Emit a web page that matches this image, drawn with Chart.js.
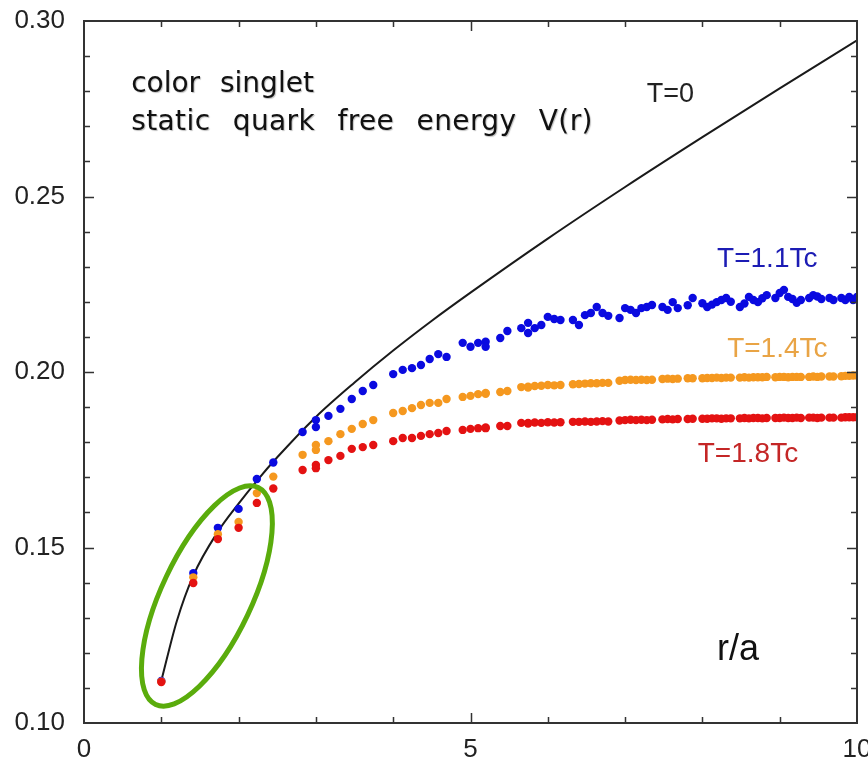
<!DOCTYPE html>
<html>
<head>
<meta charset="utf-8">
<script src="https://cdn.jsdelivr.net/npm/chart.js@4.4.1/dist/chart.umd.min.js"></script>
<style>
  html, body { margin: 0; padding: 0; background: #fff; }
  canvas { display: block; }
</style>
</head>
<body>
<canvas id="myChart" width="868" height="760"></canvas>
<script>
// r/a of the lattice points
const rVals = [
  1.000, 1.414, 1.732, 2.000, 2.236, 2.449, 2.828, 3.000, 3.000, 3.162,
  3.317, 3.464, 3.606, 3.742, 4.000, 4.123, 4.243, 4.359, 4.472, 4.583,
  4.690, 4.899, 5.000, 5.099, 5.196, 5.196, 5.385, 5.477, 5.657, 5.745,
  5.745, 5.831, 5.916, 6.000, 6.083, 6.164, 6.325, 6.403, 6.481, 6.557,
  6.633, 6.708, 6.782, 6.928, 7.000, 7.071, 7.141, 7.211, 7.280, 7.348,
  7.483, 7.550, 7.616, 7.681, 7.810, 7.874, 8.000, 8.062, 8.124, 8.185,
  8.246, 8.307, 8.367, 8.485, 8.544, 8.602, 8.660, 8.718, 8.775, 8.832,
  8.944, 9.000, 9.055, 9.110, 9.165, 9.220, 9.274, 9.381, 9.434, 9.487,
  9.539, 9.644, 9.695, 9.798, 9.849, 9.899, 9.950, 10.000
];
// T = 1.1 Tc
const blueVals = [
  0.1120, 0.1427, 0.1556, 0.1610, 0.1695, 0.1742, 0.1829, 0.1863, 0.1843, 0.1875,
  0.1895, 0.1923, 0.1946, 0.1963, 0.1994, 0.2006, 0.2011, 0.2020, 0.2037, 0.2051,
  0.2043, 0.2083, 0.2072, 0.2083, 0.2086, 0.2072, 0.2097, 0.2117, 0.2125, 0.2140,
  0.2111, 0.2125, 0.2134, 0.2157, 0.2151, 0.2148, 0.2148, 0.2134, 0.2162, 0.2168,
  0.2185, 0.2168, 0.2160, 0.2154, 0.2182, 0.2177, 0.2168, 0.2182, 0.2185, 0.2191,
  0.2185, 0.2177, 0.2199, 0.2182, 0.2190, 0.2211, 0.2196, 0.2185, 0.2192, 0.2199,
  0.2205, 0.2211, 0.2200, 0.2185, 0.2195, 0.2214, 0.2205, 0.2199, 0.2210, 0.2219,
  0.2211, 0.2225, 0.2234, 0.2214, 0.2208, 0.2197, 0.2205, 0.2211, 0.2219, 0.2215,
  0.2208, 0.2211, 0.2205, 0.2211, 0.2205, 0.2214, 0.2205, 0.2214
];
// T = 1.4 Tc
const orangeVals = [
  0.1118, 0.1415, 0.1538, 0.1573, 0.1655, 0.1702, 0.1764, 0.1792, 0.1778, 0.1803,
  0.1823, 0.1838, 0.1852, 0.1863, 0.1883, 0.1889, 0.1897, 0.1906, 0.1912, 0.1912,
  0.1923, 0.1929, 0.1932, 0.1937, 0.1940, 0.1938, 0.1943, 0.1946, 0.1957, 0.1958,
  0.1956, 0.1960, 0.1961, 0.1963, 0.1962, 0.1963, 0.1965, 0.1966, 0.1967, 0.1968,
  0.1968, 0.1969, 0.1969, 0.1975, 0.1977, 0.1978, 0.1977, 0.1978, 0.1977, 0.1978,
  0.1980, 0.1981, 0.1980, 0.1981, 0.1982, 0.1982, 0.1982, 0.1983, 0.1983, 0.1984,
  0.1983, 0.1984, 0.1984, 0.1984, 0.1985, 0.1984, 0.1985, 0.1985, 0.1985, 0.1986,
  0.1985, 0.1986, 0.1986, 0.1985, 0.1986, 0.1986, 0.1986, 0.1986, 0.1987, 0.1986,
  0.1987, 0.1987, 0.1987, 0.1988, 0.1989, 0.1989, 0.1990, 0.1990
];
// T = 1.8 Tc
const redVals = [
  0.1117, 0.1399, 0.1524, 0.1556, 0.1627, 0.1668, 0.1721, 0.1735, 0.1726, 0.1749,
  0.1761, 0.1781, 0.1786, 0.1792, 0.1803, 0.1812, 0.1812, 0.1818, 0.1823, 0.1826,
  0.1832, 0.1835, 0.1838, 0.1840, 0.1842, 0.1840, 0.1846, 0.1846, 0.1855, 0.1855,
  0.1853, 0.1856, 0.1855, 0.1857, 0.1856, 0.1857, 0.1858, 0.1858, 0.1859, 0.1858,
  0.1859, 0.1860, 0.1859, 0.1862, 0.1863, 0.1864, 0.1863, 0.1864, 0.1863, 0.1864,
  0.1865, 0.1866, 0.1865, 0.1866, 0.1866, 0.1867, 0.1867, 0.1867, 0.1868, 0.1868,
  0.1867, 0.1868, 0.1868, 0.1868, 0.1869, 0.1868, 0.1869, 0.1869, 0.1868, 0.1869,
  0.1869, 0.1869, 0.1870, 0.1869, 0.1869, 0.1870, 0.1869, 0.1870, 0.1870, 0.1869,
  0.1870, 0.1870, 0.1870, 0.1870, 0.1871, 0.1871, 0.1871, 0.1871
];
// T = 0 potential
const curveR = [1.0, 1.2, 1.414, 1.732, 2.0, 2.236, 2.5, 3.0, 3.5, 4.0, 4.5, 5.0, 6.0, 7.0, 8.0, 9.0, 10.0];
const curveV = [0.112, 0.129, 0.142, 0.1545, 0.1625, 0.169, 0.1757, 0.1872, 0.197, 0.2061, 0.2146, 0.2226, 0.238, 0.2527, 0.2669, 0.2808, 0.2945];

const xTicks = [0, 5, 10];
const yTicks = [0.10, 0.15, 0.20, 0.25, 0.30];

const toPts = (xs, ys) => xs.map((x, i) => ({ x: x, y: ys[i] }));

const notes = [
  { text: "color singlet", x: 0.61, y: 0.2798, color: "#111", font: "28px 'DejaVu Sans'", shadow: true, gap: "11px" },
  { text: "static quark free energy V(r)", x: 0.61, y: 0.2689, color: "#111", font: "28px 'DejaVu Sans'", shadow: true, gap: "13px", spread: "0.4px" },
  { text: "T=0", x: 7.28, y: 0.2769, color: "#222", font: "27px 'Liberation Sans'" },
  { text: "T=1.1Tc", x: 8.19, y: 0.2299, color: "#1c1cb4", font: "28px 'Liberation Sans'" },
  { text: "T=1.4Tc", x: 8.32, y: 0.2043, color: "#e9a445", font: "28px 'Liberation Sans'" },
  { text: "T=1.8Tc", x: 7.94, y: 0.1744, color: "#c42626", font: "28px 'Liberation Sans'" },
  { text: "r/a", x: 8.19, y: 0.1179, color: "#111", font: "36px 'Liberation Sans'" }
];

const ring = { x: 1.59, y: 0.1362, rx: 120, ry: 45, angle: -64.7, color: "#5aac0c", width: 5 };

const decor = {
  id: "decor",
  afterDatasetsDraw(chart) {
    const { ctx, chartArea: a, scales } = chart;
    const sx = scales.x, sy = scales.y;
    ctx.save();

    // green ellipse
    ctx.strokeStyle = ring.color;
    ctx.lineWidth = ring.width;
    ctx.beginPath();
    ctx.ellipse(sx.getPixelForValue(ring.x), sy.getPixelForValue(ring.y),
      ring.rx, ring.ry, ring.angle * Math.PI / 180, 0, Math.PI * 2);
    ctx.stroke();

    // frame top/right and inward ticks
    ctx.strokeStyle = "#333";
    ctx.lineWidth = 2;
    ctx.beginPath();
    ctx.moveTo(a.left, a.top);
    ctx.lineTo(a.right, a.top);
    ctx.lineTo(a.right, a.bottom);
    ctx.stroke();

    ctx.lineWidth = 1.5;
    ctx.beginPath();
    for (let i = 1; i < 10; i++) {
      const px = Math.round(sx.getPixelForValue(i)) + 0.5;
      const len = i % 5 === 0 ? 10 : 6;
      ctx.moveTo(px, a.bottom);
      ctx.lineTo(px, a.bottom - len);
      ctx.moveTo(px, a.top);
      ctx.lineTo(px, a.top + len);
    }
    for (let i = 11; i < 30; i++) {
      const py = Math.round(sy.getPixelForValue(i / 100)) + 0.5;
      const len = i % 5 === 0 ? 10 : 6;
      ctx.moveTo(a.left, py);
      ctx.lineTo(a.left + len, py);
      ctx.moveTo(a.right, py);
      ctx.lineTo(a.right - len, py);
    }
    ctx.stroke();

    // text notes
    ctx.textAlign = "left";
    ctx.textBaseline = "alphabetic";
    for (const n of notes) {
      ctx.font = n.font;
      ctx.fillStyle = n.color;
      ctx.wordSpacing = n.gap || "0px";
      ctx.letterSpacing = n.spread || "0px";
      if (n.shadow) {
        ctx.shadowColor = "rgba(0,0,0,0.25)";
        ctx.shadowOffsetX = 1;
        ctx.shadowOffsetY = 1;
        ctx.shadowBlur = 1;
      } else {
        ctx.shadowColor = "transparent";
      }
      ctx.fillText(n.text, sx.getPixelForValue(n.x), sy.getPixelForValue(n.y));
    }
    ctx.restore();
  }
};

Chart.defaults.font.family = "'Liberation Sans', Arial, sans-serif";

const ctx = document.getElementById("myChart").getContext("2d");
const myChart = new Chart(ctx, {
  type: "scatter",
  data: {
    datasets: [
      {
        label: "T=1.8Tc",
        data: toPts(rVals, redVals),
        backgroundColor: "#e41212",
        pointRadius: 4.2,
        pointBorderWidth: 0,
        order: 0
      },
      {
        label: "T=1.4Tc",
        data: toPts(rVals, orangeVals),
        backgroundColor: "#f5981f",
        pointRadius: 4.2,
        pointBorderWidth: 0,
        order: 1
      },
      {
        label: "T=1.1Tc",
        data: toPts(rVals, blueVals),
        backgroundColor: "#0a0ae0",
        pointRadius: 4.2,
        pointBorderWidth: 0,
        order: 2
      },
      {
        type: "line",
        label: "T=0",
        data: toPts(curveR, curveV),
        borderColor: "#1a1a1a",
        borderWidth: 2,
        pointRadius: 0,
        fill: false,
        cubicInterpolationMode: "monotone",
        order: 3
      }
    ]
  },
  options: {
    responsive: false,
    animation: false,
    devicePixelRatio: 1,
    layout: { padding: { top: 21, right: 11, left: 0, bottom: 0 } },
    plugins: {
      legend: { display: false },
      tooltip: { enabled: false }
    },
    scales: {
      x: {
        type: "linear",
        min: 0,
        max: 10,
        grid: { display: false, drawTicks: false },
        border: { display: true, color: "#333", width: 2 },
        ticks: { font: { size: 26 }, color: "#222", padding: 11, maxRotation: 0 },
        afterBuildTicks: (s) => { s.ticks = xTicks.map((v) => ({ value: v })); },
        afterFit: (s) => { s.height = 37; s.paddingLeft = 0; s.paddingRight = 0; }
      },
      y: {
        type: "linear",
        min: 0.10,
        max: 0.30,
        grid: { display: false, drawTicks: false },
        border: { display: true, color: "#333", width: 2 },
        ticks: {
          font: { size: 26 },
          color: "#222",
          padding: 19,
          callback: (v) => Number(v).toFixed(2)
        },
        afterBuildTicks: (s) => { s.ticks = yTicks.map((v) => ({ value: v })); },
        afterFit: (s) => { s.width = 84; s.paddingTop = 0; s.paddingBottom = 0; }
      }
    }
  },
  plugins: [decor]
});
</script>
</body>
</html>
